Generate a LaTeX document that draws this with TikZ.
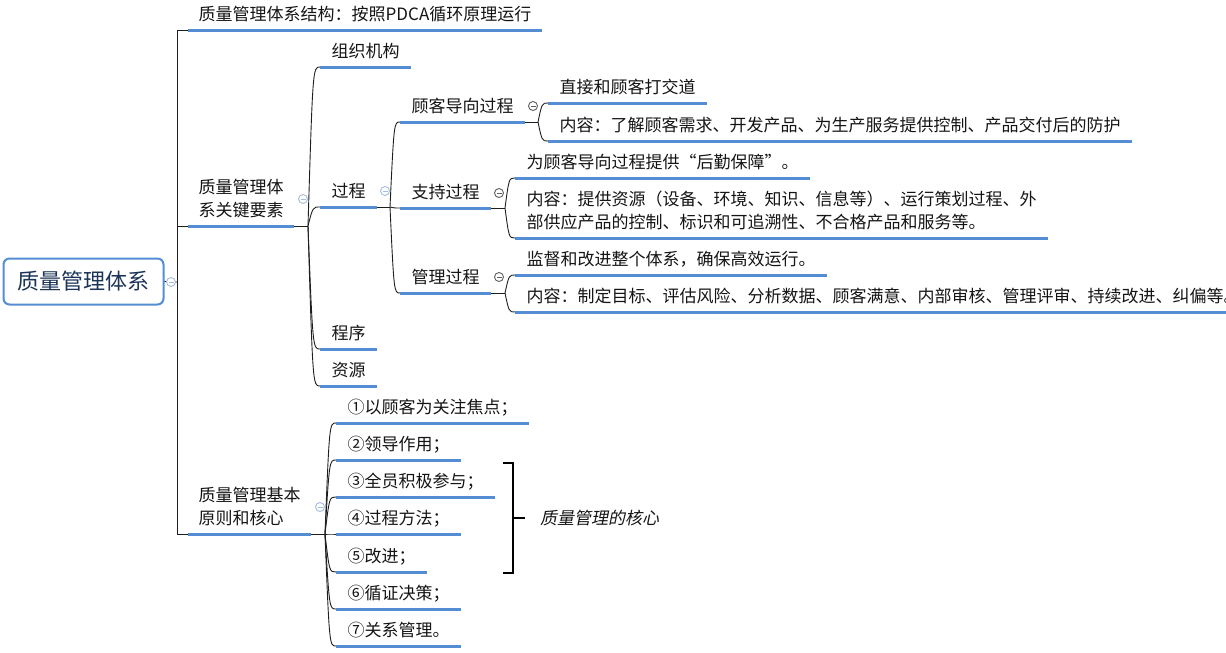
\documentclass[tikz,border=0pt]{standalone}
\usepackage{fontspec}
\setmainfont{Noto Sans CJK SC}
\newfontfamily\slfont[FakeSlant=0.2]{Noto Sans CJK SC}
\usetikzlibrary{calc}
\definecolor{ublue}{RGB}{84,141,212}
\definecolor{navy}{RGB}{28,52,88}
\definecolor{lnk}{RGB}{30,30,30}
\definecolor{lcirc}{RGB}{168,188,224}
\definecolor{dcirc}{RGB}{96,96,96}
\tikzset{
 topic/.style={anchor=south west, inner xsep=11.5pt, inner ysep=9pt, text depth=0pt,
   font=\fontsize{17}{23.5}\selectfont, align=left, text=black!92},
 topone/.style={topic, inner xsep=10.5pt},
 uline/.style={draw=ublue, line width=3pt},
 link/.style={draw=lnk, line width=0.9pt},
 rootbox/.style={draw=ublue, line width=2pt, rounded corners=6pt, fill=white,
   minimum width=160pt, minimum height=46pt, font=\fontsize{22}{26}\selectfont, text=navy},
 collapse/.style={circle, draw=#1, fill=white, line width=0.9pt, minimum size=9pt, inner sep=0pt,
   path picture={\draw[#1, line width=0.9pt] ([xshift=-2.5pt]path picture bounding box.center) -- ([xshift=2.5pt]path picture bounding box.center);}},
 brk/.style={draw=black, line width=2pt},
}
\begin{document}
\begin{tikzpicture}[x=1pt,y=-1pt]
\useasboundingbox (0,0) rectangle (1226,653);
% root
\node[rootbox] (root) at (83.5,281.5) {质量管理体系};
% junctions
\coordinate (j0) at (177,282);
\coordinate (j1) at (308,226);
\coordinate (j2) at (390,207);
\coordinate (j3) at (538,122);
\coordinate (j4) at (505,208);
\coordinate (j5) at (505,293);
\coordinate (j6) at (325,534);
% level 1
\node[topone] (t1) at (188,30) {质量管理体系结构：按照PDCA循环原理运行};
\node[topone] (t2) at (188,226) {质量管理体\\系关键要素};
\node[topone] (t3) at (188,534) {质量管理基本\\原则和核心};
% level 2
\node[topic] (a1) at (320,67) {组织机构};
\node[topic] (a2) at (320,207) {过程};
\node[topic] (a3) at (320,349) {程序};
\node[topic] (a4) at (320,386) {资源};
% level 3
\node[topic] (b1) at (400,122) {顾客导向过程};
\node[topic] (b2) at (400,208) {支持过程};
\node[topic] (b3) at (400,293) {管理过程};
% level 4
\node[topic] (c1) at (548,103) {直接和顾客打交道};
\node[topic] (c2) at (548,141) {内容：了解顾客需求、开发产品、为生产服务提供控制、产品交付后的防护};
\node[topic] (d1) at (515,178) {为顾客导向过程提供{\addfontfeature{CharacterWidth=Full}“}后勤保障{\addfontfeature{CharacterWidth=Full}”}。};
\node[topic] (d2) at (515,238) {内容：提供资源（设备、环境、知识、信息等）、运行策划过程、外\\部供应产品的控制、标识和可追溯性、不合格产品和服务等。};
\node[topic] (e1) at (515,275) {监督和改进整个体系，确保高效运行。};
\node[topic] (e2) at (515,312) {内容：制定目标、评估风险、分析数据、顾客满意、内部审核、管理评审、持续改进、纠偏等。};
% principles
\node[topic] (p1) at (336,423) {①以顾客为关注焦点；};
\node[topic] (p2) at (336,460) {②领导作用；};
\node[topic] (p3) at (336,497) {③全员积极参与；};
\node[topic] (p4) at (336,534) {④过程方法；};
\node[topic] (p5) at (336,572) {⑤改进；};
\node[topic] (p6) at (336,609) {⑥循证决策；};
\node[topic] (p7) at (336,646) {⑦关系管理。};
% underlines
\foreach \n in {t1,t2,t3,a1,a2,a3,a4,b1,b2,b3,c1,c2,d1,d2,e1,e2,p1,p2,p3,p4,p5,p6,p7}
  \draw[uline] (\n.south west) -- (\n.south east);
% root connectors
\draw[link] (root.east) -- (j0);
\foreach \c in {t1,t2,t3} \draw[link] (j0) |- (\c.south west);
% stems from parents to junctions
\draw[link] (t2.south east) -- (j1);
\draw[link] (a2.south east) -- (j2);
\draw[link] (b1.south east) -- (j3);
\draw[link] (b2.south east) -- (j4);
\draw[link] (b3.south east) -- (j5);
\draw[link] (t3.south east) -- (j6);
% curved connectors
\foreach \j/\c in {j1/a1,j1/a2,j1/a3,j1/a4,j2/b1,j2/b2,j2/b3,j3/c1,j3/c2,j4/d1,j4/d2,j5/e1,j5/e2,
                   j6/p1,j6/p2,j6/p3,j6/p4,j6/p5,j6/p6,j6/p7}
  \draw[link] (\j) .. controls ($(\j |- \c.south west)!0.4!(\c.south west)$) .. (\c.south west);
% collapse markers
\node[collapse=lcirc] (k0) at (171,282) {};
\node[collapse=lcirc] (k1) at (303,199) {};
\node[collapse=lcirc] (k2) at (385,191) {};
\node[collapse=dcirc] (k3) at (533,106) {};
\node[collapse=dcirc] (k4) at (499,193) {};
\node[collapse=dcirc] (k5) at (499,277) {};
\node[collapse=lcirc] (k6) at (320,507) {};
% bracket
\coordinate (bt) at (503,463);
\coordinate (bb) at (503,573);
\coordinate (btr) at (513,463);
\coordinate (bbr) at (513,573);
\coordinate (bm) at (513,518);
\coordinate (bmt) at (525,518);
\draw[brk] (bt) -- (btr) -- (bbr) -- (bb);
\draw[brk] (bm) -- (bmt);
\node[anchor=west, inner sep=0pt, font=\fontsize{17}{20}\slfont, text=black!92] (core) at (540,518) {质量管理的核心};
\end{tikzpicture}
\end{document}
